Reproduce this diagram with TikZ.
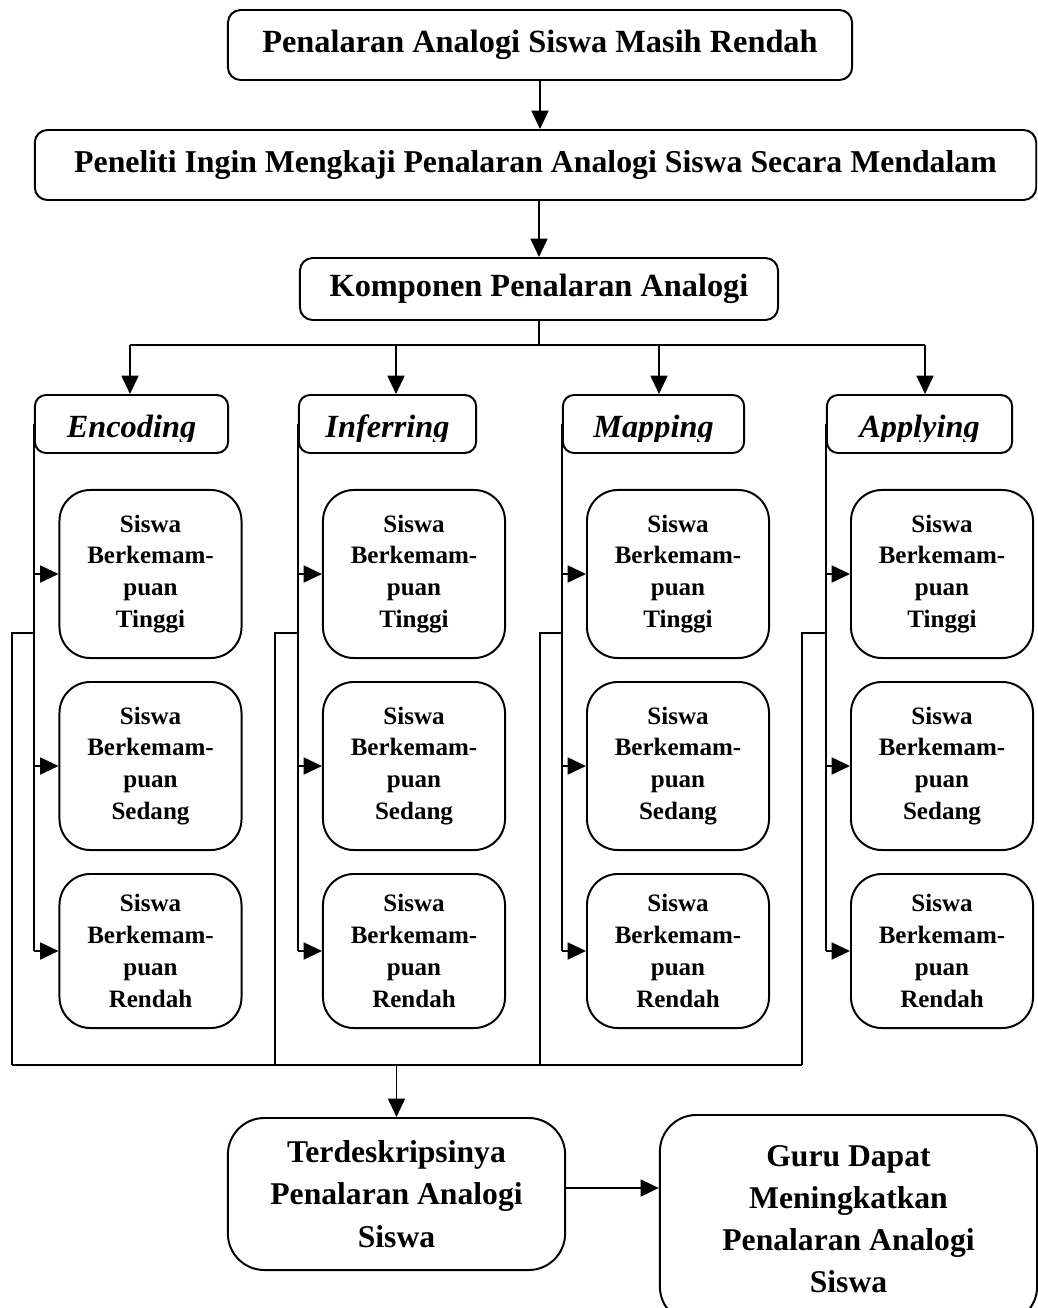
\documentclass[tikz,border=0pt]{standalone}
\usepackage{fontspec}
\setmainfont{Liberation Serif}
\usetikzlibrary{arrows.meta}
\tikzset{
  box/.style={draw, line width=1.4pt, rounded corners=9pt, inner sep=0pt,
    align=center, font=\bfseries\fontsize{23}{30}\selectfont},
  hdbox/.style={draw, line width=1.4pt, rounded corners=8pt, inner sep=0pt,
    minimum height=1.45cm},
  hdtext/.style={anchor=base, inner sep=0pt, font=\bfseries\itshape\fontsize{23}{28}\selectfont},
  sbox/.style={draw, line width=1.4pt, rounded corners=22pt, inner sep=0pt,
    minimum width=4.55cm, align=center, font=\bfseries\fontsize{17.8}{22.7}\selectfont},
  bigbox/.style={draw, line width=1.4pt, rounded corners=26pt, inner sep=0pt,
    align=center, font=\bfseries\fontsize{22.5}{30}\selectfont},
  arr/.style={line width=1.4pt, -{Triangle[length=13pt,width=12pt]}},
  ln/.style={line width=1.4pt}
}
\begin{document}
\begin{tikzpicture}[x=0.025cm,y=-0.025cm]
  \useasboundingbox (0,0) rectangle (1038,1308);
  % upper chain
  \node[box, minimum width=15.6cm, minimum height=1.75cm] (masalah) at (540,45) {Penalaran Analogi Siswa Masih Rendah};
  \node[box, minimum width=25.03cm, minimum height=1.75cm, font=\bfseries\fontsize{22.6}{30}\selectfont] (peneliti) at (535.5,165) {Peneliti Ingin Mengkaji Penalaran Analogi Siswa Secara Mendalam};
  \node[box, minimum width=11.95cm, minimum height=1.55cm] (komponen) at (539,289) {Komponen Penalaran Analogi};
  \draw[arr] (masalah) -- (masalah.south |- peneliti.north);
  \draw[arr] (komponen.north |- peneliti.south) -- (komponen.north);
  \coordinate (bus) at (539,345);
  \draw[ln] (komponen.south) -- (bus);
  \draw[ln] (130,345) -- (925,345);
  % components
  \foreach \n/\t/\cx/\w/\ax in {enc/Encoding/131.5/4.83/130, inf/Inferring/387.5/4.43/396,
      map/Mapping/653.5/4.53/659, app/Applying/919.5/4.63/925} {
    \node[hdbox, minimum width=\w cm] (\n) at (\cx,424) {};
    \begin{scope}
      \clip (\n.north west) rectangle (\n.east |- 0,441);
      \node[hdtext] (\n-txt) at (\cx,437) {\t};
    \end{scope}
    \draw[arr] (\ax,345) -- (\ax,0 |- \n.north);
  }
  % student levels
  \foreach \n/\cx in {enc/150.5, inf/414, map/678, app/942} {
    \node[sbox, minimum height=4.2cm] (\n-t) at (\cx,574) {Siswa\\Berkemam-\\puan\\Tinggi};
    \node[sbox, minimum height=4.2cm] (\n-s) at (\cx,766) {Siswa\\Berkemam-\\puan\\Sedang};
    \node[sbox, minimum height=3.85cm] (\n-r) at (\cx,951) {Siswa\\Berkemam-\\puan\\Rendah};
    \draw[ln] (\n.west) -- (\n.west |- \n-r.west);
    \draw[arr] (\n.west |- \n-t.west) -- (\n-t.west);
    \draw[arr] (\n.west |- \n-s.west) -- (\n-s.west);
    \draw[arr] (\n.west |- \n-r.west) -- (\n-r.west);
  }
  % frame
  \foreach \n/\fx in {enc/12, inf/275, map/540, app/802}
    \draw[ln] (\n.west |- 0,633) -- (\fx,633) -- (\fx,1065);
  \coordinate (base) at (396.5,1065);
  \draw[ln] (12,1065) -- (802,1065);
  % results
  \node[bigbox, minimum width=8.43cm, minimum height=3.8cm] (hasil) at (396.5,1194) {Terdeskripsinya\\Penalaran Analogi\\Siswa};
  \node[bigbox, minimum width=9.43cm, minimum height=5.2cm] (guru) at (848.5,1219) {Guru Dapat\\Meningkatkan\\Penalaran Analogi\\Siswa};
  \draw[arr] (base) -- (hasil.north);
  \draw[arr] ([yshift=0.15cm]hasil.east) -- ([yshift=0.15cm]hasil.east -| guru.west);
\end{tikzpicture}
\end{document}
